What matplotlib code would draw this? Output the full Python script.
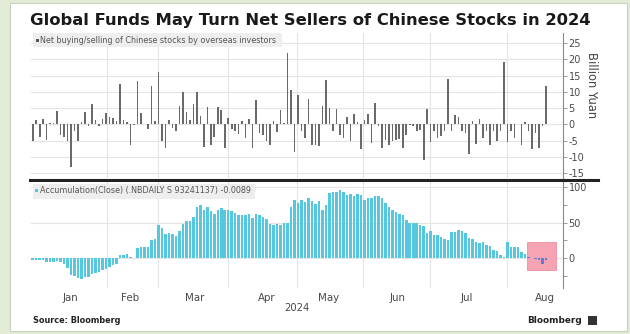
import matplotlib
matplotlib.use("Agg")
import matplotlib.pyplot as plt
import numpy as np
from matplotlib.patches import Rectangle
from matplotlib.lines import Line2D

plt.rcParams["axes.unicode_minus"] = False

W, H, DPI = 630, 334, 100

# Daily net buying/selling of Chinese stocks by overseas investors (billion yuan)
net_flow = [
    -5.2, 1.4, -4.0, 1.7, -4.7, 0.3, 0.5, 4.2, -3.2, -4.0,
    -5.0, -13.2, -2.0, -5.2, 0.7, 3.7, -0.4, 6.2, 1.3, -0.6,
    1.7, 3.6, 2.4, 2.1, 1.1, 12.3, 1.4, 0.7, -6.4, -0.3,
    13.4, 3.5, 0.2, -1.4, 11.9, 1.1, 16.2, -5.2, -7.2, 1.4,
    -1.1, -1.9, 5.8, 10.1, 3.8, 1.4, 6.2, 10.1, 2.7, -7.0,
    5.2, -6.2, -4.0, 5.2, 4.4, -7.2, 2.1, -1.3, -1.9, -3.0,
    0.9, -4.2, 1.7, -7.2, 7.5, -2.7, -3.2, -5.2, -6.2, 1.1,
    -2.3, 4.4, 0.3, 22.1, 10.6, -8.5, 9.1, -2.1, -4.2, 7.9,
    -6.2, -6.2, -6.7, 5.8, 13.7, 5.0, -1.9, 4.8, -3.2, -4.2,
    2.4, -5.2, 3.2, 0.7, -7.7, 1.4, 3.2, -5.7, 6.5, -0.6,
    -7.4, -4.7, -6.2, -5.2, -4.7, -4.4, -7.2, -3.2, -0.3, -0.6,
    -2.1, -1.6, -11.1, 4.8, -5.4, -2.1, -4.2, -3.7, -2.1, 14.0,
    -1.9, 2.8, 2.4, -2.1, -2.7, -9.1, 1.1, -6.0, 1.7, -4.2,
    -2.1, -6.4, -2.1, -5.0, -2.1, 19.3, -5.4, -2.1, -4.2, 0.2,
    -6.2, 0.7, -2.1, -7.7, -2.7, -7.2, -0.5, 11.9,
]

# Accumulation (close) of the flow series
accumulation = [
    -2, -2, -3, -2, -5, -5, -5, -4, -6, -8,
    -14, -24, -25, -28, -30, -27, -27, -22, -21, -19,
    -16, -15, -12, -10, -8, 4, 5, 6, 1, 0.5,
    14, 16, 16, 15, 25, 27, 46, 42, 34, 35,
    34, 31, 38, 48, 52, 52, 58, 72, 74, 68,
    72, 66, 62, 67, 71, 67, 68, 66, 64, 60,
    61, 60, 62, 57, 62, 61, 58, 55, 48, 46,
    48, 46, 50, 50, 72, 82, 78, 82, 79, 84,
    80, 76, 80, 68, 75, 91, 93, 93, 96, 93,
    89, 90, 88, 90, 89, 82, 85, 84, 88, 88,
    85, 77, 72, 68, 65, 62, 61, 54, 50, 50,
    50, 46, 45, 35, 38, 33, 32, 30, 27, 25,
    37, 37, 40, 38, 35, 28, 27, 23, 21, 22,
    19, 17, 11, 10, 5, 2, 23, 16, 15, 15,
    8, 6, 2, -0.5, -1.4, -3, -8, -2,
]

month_labels = ["Jan", "Feb", "Mar", "Apr", "May", "Jun", "Jul", "Aug"]
month_bounds = [21.4, 35.9, 56.0, 75.7, 94.6, 113.8, 135.9]
month_label_at = [10.7, 27.9, 46.5, 67.1, 84.9, 104.4, 124.4, 146.8]
year_label = "2024"

top_ticks = [-15, -10, -5, 0, 5, 10, 15, 20, 25]
bottom_ticks = [0, 50, 100]
bottom_minor = [-25, 25, 75]

GREY_BAR = "#6a6a6a"
CYAN = "#55c7df"
GRID = "#e4e4e4"
TICK_TXT = "#4a4a4a"

fig = plt.figure(figsize=(W / DPI, H / DPI), dpi=DPI)
fig.patch.set_facecolor("#e1ebd6")
renderer = fig.canvas.get_renderer()


def fx(px):
    return px / W


def fy(py):
    return 1 - py / H


def put_text(px, py, s, width_px=None, size=7, **kw):
    t = fig.text(fx(px), fy(py), s, fontsize=size, **kw)
    if width_px:
        bb = t.get_window_extent(renderer)
        t.set_fontsize(size * width_px / bb.width)
    return t


# white card
fig.add_artist(Rectangle((fx(10), fy(331)), (627 - 10) / W, (331 - 3) / H,
                         transform=fig.transFigure, facecolor="white",
                         edgecolor="#c8d3bd", lw=0.8, zorder=0))

x = np.arange(len(net_flow))
xa = np.arange(len(accumulation))
XLIM = (-0.5, 151.9)

ax1 = fig.add_axes([fx(31), fy(178), (563 - 31) / W, (178 - 33) / H])
ax2 = fig.add_axes([fx(31), fy(288), (563 - 31) / W, (288 - 182) / H])

for ax in (ax1, ax2):
    ax.set_facecolor("none")
    ax.set_xlim(*XLIM)
    for s in ("top", "left", "bottom"):
        ax.spines[s].set_visible(False)
    ax.spines["right"].set_color("#8a8a8a")
    ax.spines["right"].set_linewidth(0.8)
    ax.yaxis.tick_right()
    ax.tick_params(axis="y", which="both", direction="out", length=3, width=0.6,
                   color="#8a8a8a", labelsize=7, labelcolor=TICK_TXT, pad=1)
    for b in month_bounds:
        ax.axvline(b, color=GRID, lw=0.8, zorder=0)

# top panel: daily flows
ax1.set_ylim(-16.5, 28.1)
ax1.set_yticks(top_ticks)
for t in top_ticks:
    ax1.axhline(t, color=GRID, lw=0.8, zorder=0)
ax1.bar(x, net_flow, width=0.45, color=GREY_BAR, zorder=2)
ax1.set_xticks([])

# bottom panel: accumulation
ax2.set_ylim(-42, 107)
ax2.set_yticks(bottom_ticks)
ax2.set_yticks(bottom_minor, minor=True)
for t in bottom_ticks:
    ax2.axhline(t, color=GRID, lw=0.8, zorder=0)

box_x0, box_x1, box_y0, box_y1 = 141.6, 150.0, -17.0, 22.5
ax2.add_patch(Rectangle((box_x0, box_y0), box_x1 - box_x0, box_y1 - box_y0,
                        facecolor="#f6a3b3", edgecolor="#ee8fa2", lw=0.6, zorder=1))
colors = ["#5a7fd2" if box_x0 <= i <= box_x1 else CYAN for i in xa]
ax2.bar(xa, accumulation, width=0.72, color=colors, zorder=2)

ax2.set_xticks(month_label_at, month_labels)
ax2.tick_params(axis="x", length=0, labelsize=7.4, labelcolor=TICK_TXT, pad=3.5)

# separator between panels
fig.add_artist(Line2D([fx(30), fx(598)], [fy(180), fy(180)], transform=fig.transFigure,
                      color="#222222", lw=2.2))

# legend strips
fig.add_artist(Rectangle((fx(33), fy(47)), (282 - 33) / W, 14 / H, transform=fig.transFigure,
                         facecolor="#eeeeee", edgecolor="none", zorder=3))
fig.add_artist(Rectangle((fx(35.5), fy(42)), 3.2 / W, 3.2 / H, transform=fig.transFigure,
                         facecolor="#555555", edgecolor="none", zorder=4))
put_text(40.5, 40.3, "Net buying/selling of Chinese stocks by overseas investors",
         width_px=237, size=5.5, color="#555555", va="center", zorder=5)

fig.add_artist(Rectangle((fx(33), fy(199)), (255 - 33) / W, 15 / H, transform=fig.transFigure,
                         facecolor="#eeeeee", edgecolor="none", zorder=3))
fig.add_artist(Rectangle((fx(35), fy(192)), 3.4 / W, 3.4 / H, transform=fig.transFigure,
                         facecolor=CYAN, edgecolor="none", zorder=4))
put_text(40.3, 190.3, "Accumulation(Close) (.NBDAILY S 93241137) -0.0089",
         width_px=212, size=5.5, color="#555555", va="center", zorder=5)

# titles and captions
put_text(30, 25, "Global Funds May Turn Net Sellers of Chinese Stocks in 2024",
         width_px=557, size=13, weight="bold", color="#1a1a1a", va="baseline")
put_text(591, 85, "Billion Yuan", size=8.3, color="#444444", rotation=270,
         ha="center", va="center")
fig.text(fx(297), fy(308), year_label, fontsize=7.2, color=TICK_TXT, ha="center", va="center")
put_text(33, 320.5, "Source: Bloomberg", width_px=89, size=6, weight="bold",
         color="#222222", va="center")
put_text(527, 320.5, "Bloomberg", width_px=55, size=7.5, weight="bold",
         color="#222222", va="center")
fig.add_artist(Rectangle((fx(587.5), fy(325)), 9 / W, 9 / H, transform=fig.transFigure,
                         facecolor="#333333", edgecolor="none"))

fig.savefig("out.png", dpi=DPI, facecolor=fig.get_facecolor())
